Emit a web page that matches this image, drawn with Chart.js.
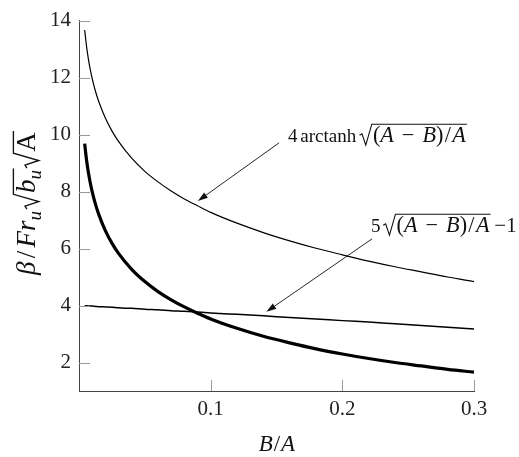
<!DOCTYPE html>
<html><head><meta charset="utf-8">
<script src="https://cdn.jsdelivr.net/npm/chart.js@4"></script>
<style>html,body{margin:0;padding:0;background:#fff}</style>
</head><body>
<canvas id="c" width="519" height="457" style="width:519px;height:457px;display:block"></canvas>
<script>
// B/A values (x)
const bOverA = [0.0043,0.006,0.008,0.01,0.0125,0.015,0.02,0.025,0.03,0.04,0.05,0.06,0.07,0.08,0.09,0.1,0.12,0.14,0.16,0.18,0.2,0.22,0.24,0.26,0.28,0.3];
// 4 arctanh sqrt((A-B)/A)  (thin curve)
const arctanhSeries = [13.67,13.00,12.42,11.97,11.52,11.16,10.58,10.13,9.76,9.17,8.71,8.34,8.02,7.74,7.50,7.27,6.89,6.56,6.27,6.01,5.78,5.56,5.36,5.18,5.00,4.84];
// 5 sqrt((A-B)/A) - 1  (nearly straight line)
const sqrtSeries = [3.99,3.99,3.98,3.98,3.97,3.96,3.95,3.94,3.92,3.90,3.87,3.85,3.82,3.80,3.77,3.74,3.69,3.64,3.58,3.53,3.47,3.42,3.36,3.30,3.24,3.18];
// beta / Fr_u sqrt(b_u) sqrt(A)  (thick curve)
const betaSeries = [9.68,9.01,8.44,8.00,7.56,7.20,6.63,6.19,5.83,5.27,4.84,4.49,4.20,3.95,3.73,3.53,3.20,2.92,2.69,2.48,2.30,2.14,2.00,1.88,1.76,1.66];
const xTicks = [0.1,0.2,0.3];
const yTicks = [2,4,6,8,10,12,14];

const SERIF = '"Liberation Serif","DejaVu Serif","Times New Roman",serif';
const pts = ys => bOverA.map((x,i)=>({x:x,y:ys[i]}));

function fnt(p,size){return (p.i?'italic ':'')+(p.sub?Math.round(size*0.7):size)+'px '+SERIF;}
function measure(ctx,parts,size){
  let w=0;
  for(const p of parts){
    const s=size*(p.k||1);
    if(p.sqrt){w+=s*0.62+measure(ctx,p.sqrt,s)+s*0.05;}
    else if(p.gap){w+=p.gap*s;}
    else{ctx.font=fnt(p,s);w+=ctx.measureText(p.t).width;}
  }
  return w;
}
function drawMath(ctx,parts,x,y,size){
  for(const p of parts){
    const s=size*(p.k||1);
    if(p.sqrt){
      const inner=measure(ctx,p.sqrt,s);
      const top=y-0.80*s;
      ctx.beginPath();
      ctx.moveTo(x+0.02*s,y-0.30*s);
      ctx.lineTo(x+0.13*s,y-0.37*s);
      ctx.lineTo(x+0.30*s,y+0.14*s);
      ctx.lineTo(x+0.57*s,top);
      ctx.lineTo(x+0.62*s+inner+0.05*s,top);
      ctx.lineWidth=Math.max(1,s*0.05);
      ctx.stroke();
      x+=0.62*s;
      x=drawMath(ctx,p.sqrt,x,y,s);
      x+=0.05*s;
    } else if(p.gap){x+=p.gap*s;}
    else{
      ctx.font=fnt(p,s);
      ctx.fillText(p.t,x,p.sub?y+0.22*s:y);
      x+=ctx.measureText(p.t).width;
    }
  }
  return x;
}
const ratioParts=[{t:'('},{t:'A',i:true},{gap:0.36},{t:'−'},{gap:0.36},{t:'B',i:true},{t:')'},{gap:0.06},{t:'/'},{gap:0.06},{t:'A',i:true}];
const label1=[{t:'4'},{gap:0.15},{t:'arctanh'},{gap:0.15},{sqrt:ratioParts,k:1.17}];
const label2=[{t:'5'},{gap:0.12},{sqrt:ratioParts,k:1.17},{gap:0.2},{t:'−1',k:1.1}];
const yTitle=[{t:'β',i:true},{gap:0.12},{t:'/'},{gap:0.12},{t:'Fr',i:true},{t:'u',i:true,sub:true},{gap:0.05},{sqrt:[{t:'b',i:true},{t:'u',i:true,sub:true}]},{sqrt:[{t:'A'}]}];
const xTitle=[{t:'B',i:true},{gap:0.04},{t:'/'},{gap:0.04},{t:'A',i:true}];

const annotations=[
  {from:[0.152,9.71],to:[0.0903,7.67],label:label1,lx:288,ly:142},
  {from:[0.2226,6.34],to:[0.1423,3.78],label:label2,lx:371,ly:232}
];

const deco={
  id:'deco',
  afterDraw(chart){
    const ctx=chart.ctx, xs=chart.scales.x, ys=chart.scales.y, a=chart.chartArea;
    ctx.save();
    // inward ticks
    ctx.strokeStyle='#9a9a9a'; ctx.lineWidth=1;
    ctx.beginPath();
    for(const v of yTicks){const y=Math.round(ys.getPixelForValue(v))+0.5;ctx.moveTo(a.left,y);ctx.lineTo(a.left+11,y);}
    for(const v of xTicks){const x=Math.round(xs.getPixelForValue(v))+0.5;ctx.moveTo(x,a.bottom);ctx.lineTo(x,a.bottom-11);}
    ctx.stroke();
    // arrows
    ctx.strokeStyle='#111'; ctx.fillStyle='#111';
    for(const an of annotations){
      const x1=xs.getPixelForValue(an.from[0]), y1=ys.getPixelForValue(an.from[1]);
      const x2=xs.getPixelForValue(an.to[0]), y2=ys.getPixelForValue(an.to[1]);
      const ang=Math.atan2(y2-y1,x2-x1), L=10, W=3.2;
      const bx=x2-L*Math.cos(ang), by=y2-L*Math.sin(ang);
      ctx.lineWidth=0.9;
      ctx.beginPath();ctx.moveTo(x1,y1);ctx.lineTo(bx,by);ctx.stroke();
      ctx.beginPath();ctx.moveTo(x2,y2);
      ctx.lineTo(bx+W*Math.sin(ang),by-W*Math.cos(ang));
      ctx.lineTo(bx-W*Math.sin(ang),by+W*Math.cos(ang));
      ctx.closePath();ctx.fill();
    }
    // labels
    ctx.textBaseline='alphabetic'; ctx.textAlign='left';
    ctx.fillStyle='#111'; ctx.strokeStyle='#111';
    for(const an of annotations){drawMath(ctx,an.label,an.lx,an.ly,19);}
    // x title
    const xw=measure(ctx,xTitle,23);
    drawMath(ctx,xTitle,277-xw/2,451,23);
    // y title
    const yw=measure(ctx,yTitle,27);
    ctx.translate(35,203); ctx.rotate(-Math.PI/2);
    drawMath(ctx,yTitle,-yw/2,0,27);
    ctx.restore();
  }
};

new Chart(document.getElementById('c'),{
  type:'line',
  data:{datasets:[
    {data:pts(arctanhSeries),borderColor:'#000',borderWidth:1.2,pointRadius:0,cubicInterpolationMode:'monotone',fill:false},
    {data:pts(sqrtSeries),borderColor:'#000',borderWidth:1.5,pointRadius:0,cubicInterpolationMode:'monotone',fill:false},
    {data:pts(betaSeries),borderColor:'#000',borderWidth:3.2,pointRadius:0,cubicInterpolationMode:'monotone',fill:false}
  ]},
  options:{
    responsive:false, animation:false, devicePixelRatio:1,
    layout:{padding:{top:14,right:45,left:0,bottom:0}},
    plugins:{legend:{display:false},tooltip:{enabled:false}},
    scales:{
      x:{type:'linear',min:0,max:0.3,
        afterBuildTicks:s=>{s.ticks=xTicks.map(v=>({value:v}));},
        afterFit:s=>{s.height=66;},
        grid:{display:false,drawTicks:false},
        border:{display:true,color:'#444',width:1},
        ticks:{padding:6,color:'#222',font:{family:SERIF,size:21},maxRotation:0,callback:v=>String(v)}},
      y:{type:'linear',min:1,max:14,
        afterBuildTicks:s=>{s.ticks=yTicks.map(v=>({value:v}));},
        afterFit:s=>{s.width=79;},
        grid:{display:false,drawTicks:false},
        border:{display:true,color:'#444',width:1},
        ticks:{padding:8,color:'#222',font:{family:SERIF,size:21},callback:v=>String(v)}}
    }
  },
  plugins:[deco]
});
</script>
</body></html>
